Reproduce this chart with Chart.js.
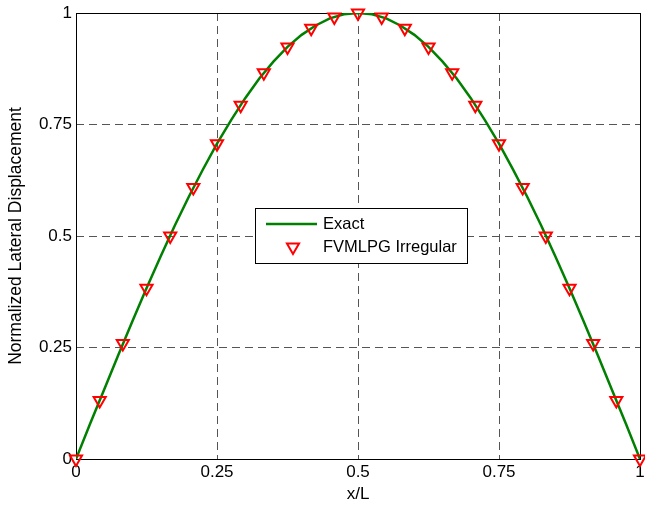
<!DOCTYPE html>
<html>
<head>
<meta charset="utf-8">
<script src="https://cdn.jsdelivr.net/npm/chart.js@4/dist/chart.umd.min.js"></script>
<style>
  html, body { margin: 0; padding: 0; background: #fff; }
  #wrap { width: 645px; height: 506px; position: relative; }
</style>
</head>
<body>
<div id="wrap"><canvas id="beamChart"></canvas></div>
<script>
// --- dati ---
const exactX = [0, 0.025, 0.05, 0.075, 0.1, 0.125, 0.15, 0.175, 0.2, 0.225, 0.25, 0.275, 0.3, 0.325, 0.35, 0.375, 0.4, 0.425, 0.45, 0.475,
  0.5, 0.525, 0.55, 0.575, 0.6, 0.625, 0.65, 0.675, 0.7, 0.725, 0.75, 0.775, 0.8, 0.825, 0.85, 0.875, 0.9, 0.925, 0.95, 0.975, 1];
const exactY = [0, 0.079, 0.156, 0.233, 0.309, 0.383, 0.454, 0.523, 0.588, 0.649, 0.707, 0.760, 0.809, 0.853, 0.891, 0.924, 0.951, 0.972, 0.988, 0.997,
  1, 0.997, 0.988, 0.972, 0.951, 0.924, 0.891, 0.853, 0.809, 0.760, 0.707, 0.649, 0.588, 0.523, 0.454, 0.383, 0.309, 0.233, 0.156, 0.079, 0];

const fvmX = [0, 0.042, 0.083, 0.125, 0.167, 0.208, 0.25, 0.292, 0.333, 0.375, 0.417, 0.458, 0.5,
  0.542, 0.583, 0.625, 0.667, 0.708, 0.75, 0.792, 0.833, 0.875, 0.917, 0.958, 1];
const fvmY = [0, 0.131, 0.259, 0.383, 0.5, 0.609, 0.707, 0.793, 0.866, 0.924, 0.966, 0.991, 1,
  0.991, 0.966, 0.924, 0.866, 0.793, 0.707, 0.609, 0.5, 0.383, 0.259, 0.131, 0];

const tickValues = [0, 0.25, 0.5, 0.75, 1];
const tickLabels = ['0', '0.25', '0.5', '0.75', '1'];
const seriesNames = ['Exact', 'FVMLPG Irregular'];

const FONT = "'Liberation Sans', Arial, Helvetica, sans-serif";
const GREEN = '#008000';
const RED = '#ff0000';

const tickLabel = v => {
  const i = tickValues.findIndex(t => Math.abs(t - v) < 1e-9);
  return i >= 0 ? tickLabels[i] : '';
};

// cornice nera attorno all'area del grafico + legenda stile MATLAB
const framePlugin = {
  id: 'frame',
  beforeDatasetsDraw(chart) {
    const a = chart.chartArea;
    const c = chart.ctx;
    c.save();
    c.strokeStyle = '#000';
    c.lineWidth = 1;
    c.strokeRect(Math.round(a.left) + 0.5, Math.round(a.top) + 0.5,
      Math.round(a.right - a.left), Math.round(a.bottom - a.top));
    c.restore();
  },
  afterDraw(chart) {
    const c = chart.ctx;
    const box = { x: 255.5, y: 208.5, w: 212, h: 55 };
    c.save();
    c.fillStyle = '#fff';
    c.fillRect(box.x, box.y, box.w, box.h);
    c.strokeStyle = '#000';
    c.lineWidth = 1;
    c.strokeRect(box.x, box.y, box.w, box.h);

    // riga 1: linea verde
    c.strokeStyle = GREEN;
    c.lineWidth = 2.5;
    c.beginPath();
    c.moveTo(266, 224);
    c.lineTo(317, 224);
    c.stroke();

    // riga 2: triangolo rosso
    c.strokeStyle = RED;
    c.lineWidth = 2;
    const cx = 293, cy = 247, r = 7;
    c.beginPath();
    for (let i = 0; i < 3; i++) {
      const ang = Math.PI + i * 2 * Math.PI / 3;
      const px = cx + Math.sin(ang) * r;
      const py = cy - Math.cos(ang) * r;
      if (i === 0) c.moveTo(px, py); else c.lineTo(px, py);
    }
    c.closePath();
    c.stroke();

    c.fillStyle = '#000';
    c.font = '16.5px ' + FONT;
    c.textBaseline = 'middle';
    c.textAlign = 'left';
    c.fillText(seriesNames[0], 323, 224);
    c.fillText(seriesNames[1], 323, 247);
    c.restore();
  }
};

const gridColor = ctx => (ctx.tick && ctx.tick.value > 0 && ctx.tick.value < 1) ? '#555' : 'rgba(0,0,0,0)';

new Chart(document.getElementById('beamChart'), {
  type: 'scatter',
  data: {
    datasets: [{
      label: seriesNames[0],
      data: exactX.map((x, i) => ({ x: x, y: exactY[i] })),
      showLine: true,
      borderColor: GREEN,
      borderWidth: 2.5,
      pointRadius: 0,
      tension: 0,
      order: 2
    }, {
      label: seriesNames[1],
      data: fvmX.map((x, i) => ({ x: x, y: fvmY[i] })),
      showLine: false,
      pointStyle: 'triangle',
      pointRotation: 180,
      pointRadius: 7,
      pointBorderWidth: 2,
      pointBorderColor: RED,
      pointBackgroundColor: 'rgba(0,0,0,0)',
      clip: false,
      order: 1
    }]
  },
  options: {
    responsive: true,
    maintainAspectRatio: false,
    animation: false,
    layout: { autoPadding: false, padding: { left: 0, right: 5, top: 13, bottom: 0 } },
    plugins: {
      legend: { display: false },
      tooltip: { enabled: false }
    },
    scales: {
      x: {
        type: 'linear',
        min: 0,
        max: 1,
        afterFit: s => { s.height = 47; s.paddingLeft = 0; s.paddingRight = 0; },
        ticks: { stepSize: 0.25, callback: tickLabel, color: '#000', font: { family: FONT, size: 17 }, padding: 3, maxRotation: 0 },
        grid: { color: gridColor, drawTicks: false, lineWidth: 1 },
        border: { display: false, dash: [8, 5] },
        title: { display: true, text: 'x/L', color: '#000', font: { family: FONT, size: 17 }, padding: { top: 0, bottom: 1 } }
      },
      y: {
        type: 'linear',
        min: 0,
        max: 1,
        afterFit: s => { s.width = 76; s.paddingTop = 0; s.paddingBottom = 0; },
        ticks: { stepSize: 0.25, callback: tickLabel, color: '#000', font: { family: FONT, size: 17 }, padding: 4 },
        grid: { color: gridColor, drawTicks: false, lineWidth: 1 },
        border: { display: false, dash: [8, 5] },
        title: { display: true, text: 'Normalized Lateral Displacement', color: '#000', font: { family: FONT, size: 17.5 }, padding: { top: 6, bottom: 0 } }
      }
    }
  },
  plugins: [framePlugin]
});
</script>
</body>
</html>
